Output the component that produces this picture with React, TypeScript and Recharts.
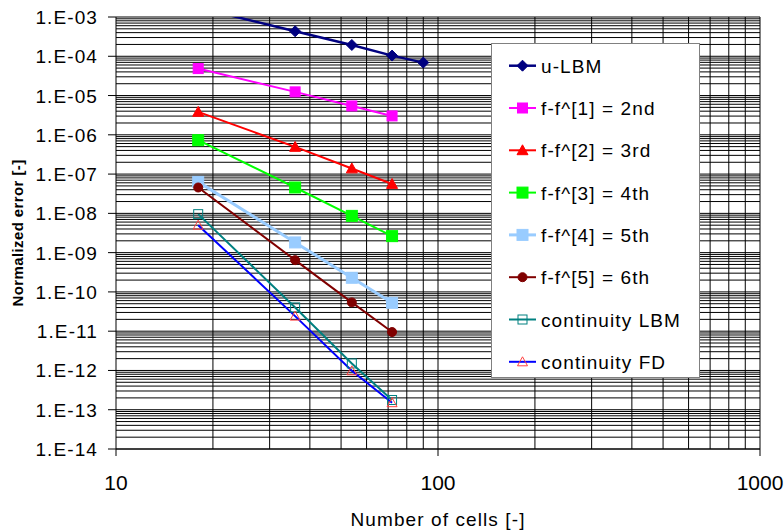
import React from 'react';
import { LineChart, Line, XAxis, YAxis, CartesianGrid, Legend, Label } from 'recharts';

// ---- data ----
const cells = [18, 36, 54, 72];
const cellsULbm = [18, 36, 54, 72, 90];
const uLbm = [1.73e-3, 4.33e-4, 1.94e-4, 1.04e-4, 6.9e-5];
const f1 = [4.86e-5, 1.24e-5, 5.43e-6, 3.03e-6];
const f2 = [3.83e-6, 4.92e-7, 1.39e-7, 5.6e-8];
const f3 = [7.3e-7, 4.56e-8, 8.63e-9, 2.63e-9];
const f4 = [6.33e-8, 1.82e-9, 2.29e-10, 5.28e-11];
const f5 = [4.56e-8, 6.44e-10, 5.4e-11, 9.5e-12];
const contLbm = [9.55e-9, 4.03e-11, 1.51e-12, 1.77e-13];
const contFd = [5.0e-9, 2.42e-11, 9.8e-13, 1.51e-13];

const seriesNames = [
  'u-LBM',
  'f-f^[1] = 2nd',
  'f-f^[2] = 3rd',
  'f-f^[3] = 4th',
  'f-f^[4] = 5th',
  'f-f^[5] = 6th',
  'continuity LBM',
  'continuity FD',
];

const xTicks = [10, 100, 1000];
const yTicks = [1e-14, 1e-13, 1e-12, 1e-11, 1e-10, 1e-9, 1e-8, 1e-7, 1e-6, 1e-5, 1e-4, 1e-3];

// gridline values (minor 2..9 within each decade)
const yGrid: number[] = [];
for (let e = -14; e <= -4; e++) {
  for (let k = 1; k <= 9; k++) yGrid.push(Number((k * Math.pow(10, e)).toPrecision(3)));
}
yGrid.push(1e-3);
const xGrid: number[] = [];
for (let e = 1; e <= 2; e++) {
  for (let k = 2; k <= 9; k++) xGrid.push(k * Math.pow(10, e));
}
xGrid.push(100, 1000);

const toPts = (xs: number[], ys: number[]) => xs.map((x, i) => ({ x, y: ys[i] }));

type MarkerSpec = {
  shape: 'diamond' | 'square' | 'triangle' | 'circle';
  size: number;
  fill: string;
  stroke: string;
  sw?: number;
};

const styles: { color: string; width: number; marker: MarkerSpec }[] = [
  { color: '#000080', width: 2.5, marker: { shape: 'diamond', size: 5.5, fill: '#000080', stroke: '#000080' } },
  { color: '#FF00FF', width: 2, marker: { shape: 'square', size: 5, fill: '#FF00FF', stroke: '#FF00FF' } },
  { color: '#FF0000', width: 2, marker: { shape: 'triangle', size: 5.5, fill: '#FF0000', stroke: '#FF0000' } },
  { color: '#00FF00', width: 2, marker: { shape: 'square', size: 5.5, fill: '#00FF00', stroke: '#00FF00' } },
  { color: '#99CCFF', width: 3, marker: { shape: 'square', size: 5.5, fill: '#99CCFF', stroke: '#99CCFF' } },
  { color: '#800000', width: 2, marker: { shape: 'circle', size: 4.5, fill: '#800000', stroke: '#800000' } },
  { color: '#008080', width: 2, marker: { shape: 'square', size: 4.5, fill: 'none', stroke: '#008080', sw: 1 } },
  { color: '#0000FF', width: 2, marker: { shape: 'triangle', size: 5, fill: 'none', stroke: '#FF4040', sw: 1 } },
];

const seriesData = [
  toPts(cellsULbm, uLbm),
  toPts(cells, f1),
  toPts(cells, f2),
  toPts(cells, f3),
  toPts(cells, f4),
  toPts(cells, f5),
  toPts(cells, contLbm),
  toPts(cells, contFd),
];

const FONT = "'Liberation Sans', Arial, sans-serif";

function Marker({ cx, cy, m }: { cx: number; cy: number; m: MarkerSpec }) {
  const s = m.size;
  const sw = m.sw ?? 1;
  if (m.shape === 'diamond')
    return <polygon points={`${cx},${cy - s} ${cx + s},${cy} ${cx},${cy + s} ${cx - s},${cy}`} fill={m.fill} stroke={m.stroke} strokeWidth={sw} />;
  if (m.shape === 'square')
    return <rect x={cx - s} y={cy - s} width={2 * s} height={2 * s} fill={m.fill} stroke={m.stroke} strokeWidth={sw} />;
  if (m.shape === 'triangle')
    return <polygon points={`${cx},${cy - s} ${cx + s},${cy + s * 0.8} ${cx - s},${cy + s * 0.8}`} fill={m.fill} stroke={m.stroke} strokeWidth={sw} />;
  return <circle cx={cx} cy={cy} r={s} fill={m.fill} stroke={m.stroke} strokeWidth={sw} />;
}

const fmtY = (v: number) => {
  const e = Math.round(Math.log10(v));
  const a = Math.abs(e);
  return `1.E${e < 0 ? '-' : '+'}${a < 10 ? '0' + a : a}`;
};

const YTick = (props: any) => {
  const { x, y, payload } = props;
  return (
    <text x={x} y={y} dy={7} textAnchor="end" fontFamily={FONT} fontSize={19} letterSpacing={1.1} fill="#000">
      {fmtY(payload.value)}
    </text>
  );
};

const XTick = (props: any) => {
  const { x, y, payload } = props;
  return (
    <text x={x} y={y} dy={16} textAnchor="middle" fontFamily={FONT} fontSize={21} fill="#000">
      {String(payload.value)}
    </text>
  );
};

const LegendBox = () => {
  const rowH = 42.3;
  return (
    <svg width={209} height={335} style={{ display: 'block' }}>
      <rect x={0.5} y={0.5} width={208} height={334} fill="#fff" stroke="#808080" strokeWidth={1} />
      {seriesNames.map((name, i) => {
        const cy = 22.7 + i * rowH;
        const st = styles[i];
        return (
          <g key={name}>
            <line x1={18} x2={45} y1={cy} y2={cy} stroke={st.color} strokeWidth={st.width} />
            <Marker cx={31.5} cy={cy} m={st.marker} />
            <text x={50} y={cy + 7} fontFamily={FONT} fontSize={19} letterSpacing={1.1} fill="#000">
              {name}
            </text>
          </g>
        );
      })}
    </svg>
  );
};

export default function App() {
  return (
    <div style={{ position: 'absolute', left: 0, top: 0 }}>
      <LineChart width={784} height={530} margin={{ top: 17, right: 24, bottom: 0, left: 0 }}>
        <CartesianGrid horizontalValues={yGrid} verticalValues={xGrid} stroke="#000" strokeWidth={1} />
        <XAxis
          type="number"
          dataKey="x"
          scale="log"
          domain={[10, 1000]}
          ticks={xTicks}
          allowDataOverflow
          height={81}
          tickSize={7}
          tickMargin={18}
          tick={<XTick />}
          stroke="#000"
          interval={0}
        >
          <Label
            content={(p: any) => {
              const vb = p.viewBox;
              return (
                <text x={vb.x + vb.width / 2} y={526} textAnchor="middle" fontFamily={FONT} fontSize={19} letterSpacing={1.1} fill="#000">
                  Number of cells [-]
                </text>
              );
            }}
          />
        </XAxis>
        <YAxis
          type="number"
          dataKey="y"
          scale="log"
          domain={[1e-14, 1e-3]}
          ticks={yTicks}
          allowDataOverflow
          width={116}
          tickSize={8}
          tickMargin={10}
          tick={<YTick />}
          stroke="#000"
          interval={0}
        >
          <Label
            content={(p: any) => {
              const vb = p.viewBox;
              const cy = vb.y + vb.height / 2;
              return (
                <text
                  x={23}
                  y={cy}
                  transform={`rotate(-90, 23, ${cy})`}
                  textAnchor="middle"
                  fontFamily={FONT}
                  fontSize={15}
                  fontWeight="bold"
                  letterSpacing={0.4}
                  fill="#000"
                >
                  Normalized error [-]
                </text>
              );
            }}
          />
        </YAxis>
        <Legend
          layout="vertical"
          align="center"
          verticalAlign="middle"
          wrapperStyle={{ left: 491, top: 43, width: 209, height: 335 }}
          content={() => <LegendBox />}
        />
        {seriesData.map((d, i) => (
          <Line
            key={seriesNames[i]}
            name={seriesNames[i]}
            data={d}
            dataKey="y"
            stroke={styles[i].color}
            strokeWidth={styles[i].width}
            isAnimationActive={false}
            dot={(p: any) => <Marker key={`${i}-${p.index}`} cx={p.cx} cy={p.cy} m={styles[i].marker} />}
            activeDot={false}
            legendType="none"
          />
        ))}
      </LineChart>
    </div>
  );
}
